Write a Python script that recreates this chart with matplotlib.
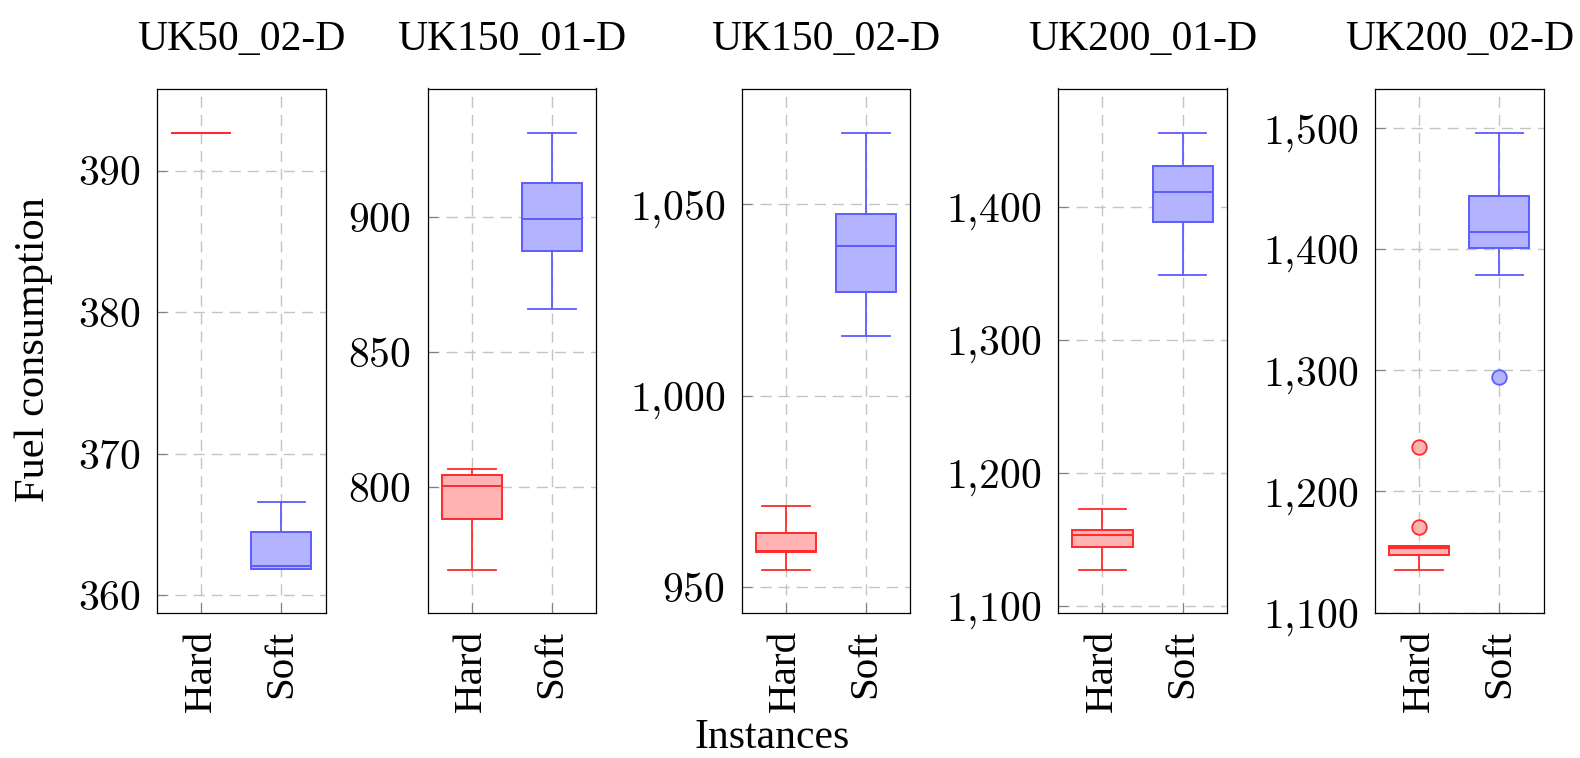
import matplotlib
matplotlib.use('Agg')
import matplotlib.pyplot as plt
from matplotlib.ticker import FixedLocator, FuncFormatter

plt.rcParams['font.family'] = 'Liberation Serif'
plt.rcParams['mathtext.fontset'] = 'cm'

titles = ['UK50_02-D', 'UK150_01-D', 'UK150_02-D', 'UK200_01-D', 'UK200_02-D']
groups = ['Hard', 'Soft']

# box statistics
hard_whislo = [392.64, 769.6, 954.6, 1127.3, 1135.4]
hard_q1 = [392.64, 788.3, 959.3, 1144.1, 1147.2]
hard_med = [392.64, 800.4, 959.6, 1153.5, 1153.6]
hard_q3 = [392.64, 804.5, 964.3, 1156.7, 1155.4]
hard_whishi = [392.64, 807.0, 971.3, 1172.5, 1155.4]
hard_fliers = [[], [], [], [], [1170.6, 1236.6]]

soft_whislo = [361.85, 866.2, 1015.7, 1348.7, 1378.3]
soft_q1 = [361.85, 887.5, 1027.1, 1388.3, 1400.8]
soft_med = [362.1, 899.4, 1039.2, 1410.7, 1413.7]
soft_q3 = [364.5, 912.8, 1047.6, 1430.2, 1444.0]
soft_whishi = [366.6, 931.2, 1068.7, 1455.3, 1495.6]
soft_fliers = [[], [], [], [], [1294.1]]

yticks = [[360, 370, 380, 390], [800, 850, 900], [950, 1000, 1050],
          [1100, 1200, 1300, 1400], [1100, 1200, 1300, 1400, 1500]]
ylims = [(358.74, 395.8), (753.4, 947.7), (943.2, 1080.3),
         (1094.4, 1488.8), (1099.5, 1532.3)]

edge_cols = ['#ff2a2a', '#5c5cff']
fill_cols = ['#ffb3b3', '#b3b3ff']

W, H = 1580, 758
fig = plt.figure(figsize=(W / 100, H / 100), dpi=100)

lefts = [157, 427.7, 741.7, 1058.3, 1375]
ax_w, ax_top, ax_bot = 168.5, 88.5, 613.3


def fmt(v, pos):
    return '$' + f'{int(round(v)):,}'.replace(',', '{,}') + '$'


for i in range(5):
    ax = fig.add_axes([lefts[i] / W, (H - ax_bot) / H, ax_w / W, (ax_bot - ax_top) / H])
    stats = [
        dict(whislo=hard_whislo[i], q1=hard_q1[i], med=hard_med[i], q3=hard_q3[i],
             whishi=hard_whishi[i], fliers=hard_fliers[i], label='Hard'),
        dict(whislo=soft_whislo[i], q1=soft_q1[i], med=soft_med[i], q3=soft_q3[i],
             whishi=soft_whishi[i], fliers=soft_fliers[i], label='Soft'),
    ]
    for j, st in enumerate(stats):
        ec, fc = edge_cols[j], fill_cols[j]
        ax.bxp([st], positions=[j + 1], widths=0.75, capwidths=0.59, patch_artist=True,
               manage_ticks=False,
               boxprops=dict(facecolor=fc, edgecolor=ec, linewidth=1.4),
               medianprops=dict(color=ec, linewidth=1.4),
               whiskerprops=dict(color=ec, linewidth=1.3),
               capprops=dict(color=ec, linewidth=1.3),
               flierprops=dict(marker='o', markerfacecolor=fc, markeredgecolor=ec,
                               markersize=10.5, markeredgewidth=1.3))
    ax.set_xlim(0.45, 2.55)
    ax.set_ylim(*ylims[i])
    ax.xaxis.set_major_locator(FixedLocator([1, 2]))
    ax.set_xticklabels(groups, rotation=90, fontsize=29.5)
    ax.yaxis.set_major_locator(FixedLocator(yticks[i]))
    ax.yaxis.set_major_formatter(FuncFormatter(fmt))
    ax.tick_params(axis='y', labelsize=30)
    ax.tick_params(direction='in', length=7, width=0.8, color='#808080', pad=12)
    ax.grid(True, color='#c4c4c4', linestyle=(0, (8, 5)), linewidth=1.0)
    ax.set_axisbelow(True)
    for sp in ax.spines.values():
        sp.set_linewidth(0.9)
    ax.set_title(titles[i], fontsize=30, pad=27.5)

fig.text(34 / W, (H - 350) / H, 'Fuel consumption', rotation=90, ha='center',
         va='center', fontsize=30.5)
fig.text(772 / W, 0.5 / H, 'Instances', ha='center', va='bottom', fontsize=30)

fig.savefig('out.png', dpi=100)
